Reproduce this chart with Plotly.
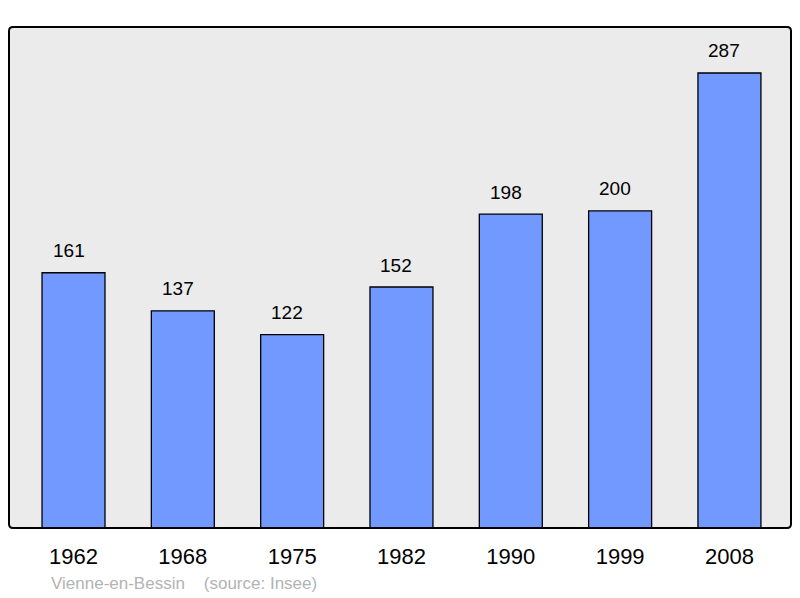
import plotly.graph_objects as go

years = ["1962", "1968", "1975", "1982", "1990", "1999", "2008"]
population = [161, 137, 122, 152, 198, 200, 287]

xpos = list(range(len(years)))

# page is offset by the default 8px body margin
OFF = 8
W, H = 800 - OFF, 598 - OFF
px0, px1, py0, py1 = 9, 791, 27, 528  # plot area in page pixels
l, r = px0 - OFF, W - (px1 - OFF)
t, b = py0 - OFF, H - (py1 - OFF)

FONT = "Liberation Sans, Arial, sans-serif"

fig = go.Figure()
fig.add_trace(go.Bar(
    x=xpos, y=population, width=0.576,
    marker=dict(color="#7299ff", line=dict(color="#000000", width=1.3)),
    hoverinfo="skip",
))

for xi, v in zip(xpos, population):
    fig.add_annotation(x=xi, y=v, text=str(v), showarrow=False, yshift=22, xshift=-5,
                       font=dict(family=FONT, size=19, color="#000"),
                       xref="x", yref="y")

fig.update_layout(
    width=W, height=H,
    margin=dict(l=l, r=r, t=t, b=b, pad=0),
    paper_bgcolor="#ffffff",
    plot_bgcolor="#ebebeb",
    showlegend=False,
    xaxis=dict(range=[-0.59, 6.563], tickmode="array", tickvals=xpos, ticktext=years,
               showgrid=False, zeroline=False, showline=False, ticks="",
               ticklabelstandoff=13,
               tickfont=dict(family=FONT, size=22, color="#000")),
    yaxis=dict(range=[0, 316], showgrid=False, zeroline=False, showline=False,
               showticklabels=False, ticks=""),
)

pw, ph = W - l - r, H - t - b
fig.add_annotation(
    text="Vienne-en-Bessin&nbsp;&nbsp;&nbsp;&nbsp;(source: Insee)",
    x=(49 - OFF - l) / pw, y=-((583 - OFF) - (H - b)) / ph,
    xref="paper", yref="paper", xanchor="left", yanchor="middle", showarrow=False,
    font=dict(family=FONT, size=17, color="#b3b3b3"),
)

# rounded border
rad = 4
def fx(x):
    return (x - OFF - l) / pw
def fy(y):
    return 1 - (y - OFF - t) / ph
rx = rad / pw
ry = rad / ph
X0, X1, Y0, Y1 = fx(px0), fx(px1), fy(py0), fy(py1)
path = (f"M {X0+rx},{Y0} L {X1-rx},{Y0} Q {X1},{Y0} {X1},{Y0-ry} "
        f"L {X1},{Y1+ry} Q {X1},{Y1} {X1-rx},{Y1} "
        f"L {X0+rx},{Y1} Q {X0},{Y1} {X0},{Y1+ry} "
        f"L {X0},{Y0-ry} Q {X0},{Y0} {X0+rx},{Y0} Z")
fig.add_shape(type="path", path=path, xref="paper", yref="paper",
              line=dict(color="#000000", width=2), layer="above")

fig.write_html("out.html")
